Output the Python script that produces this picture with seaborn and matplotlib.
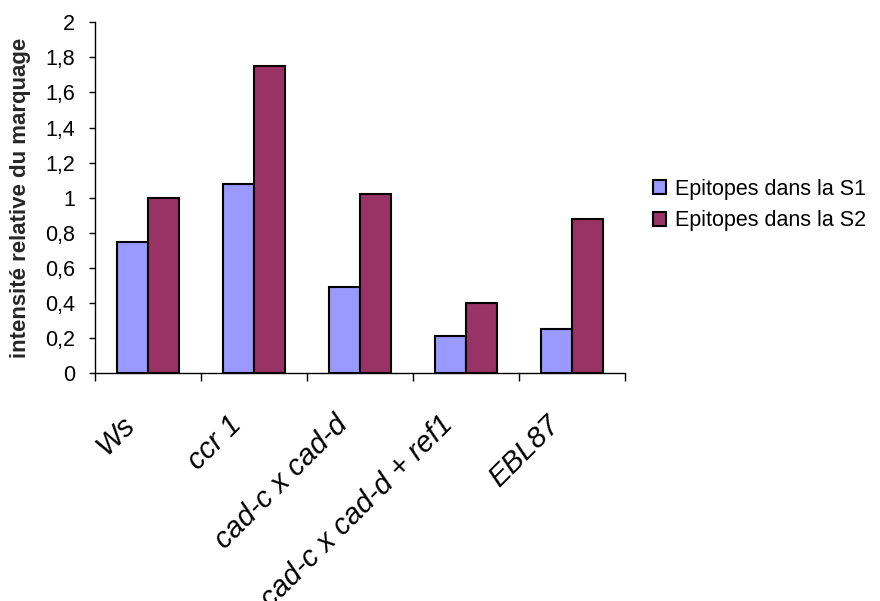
import numpy as np
import pandas as pd
import seaborn as sns
import matplotlib.pyplot as plt

# --- data ---
lignees = ['Ws', 'ccr 1', 'cad-c x cad-d', 'cad-c x cad-d + ref1', 'EBL87']
s1 = [0.75, 1.08, 0.49, 0.21, 0.25]
s2 = [1.00, 1.75, 1.02, 0.40, 0.88]
series = ['Epitopes dans la S1', 'Epitopes dans la S2']
colors = ['#9999FF', '#993366']
yticks = [0, 0.2, 0.4, 0.6, 0.8, 1.0, 1.2, 1.4, 1.6, 1.8, 2.0]
ytick_labels = ['0', '0,2', '0,4', '0,6', '0,8', '1', '1,2', '1,4', '1,6', '1,8', '2']

df = pd.DataFrame({
    'lignee': lignees * 2,
    'serie': [series[0]] * len(lignees) + [series[1]] * len(lignees),
    'valeur': s1 + s2,
})

sns.set_style('white')
plt.rcParams['font.family'] = ['Liberation Sans', 'DejaVu Sans']
plt.rcParams['text.color'] = 'black'
plt.rcParams['xtick.color'] = 'black'
plt.rcParams['ytick.color'] = 'black'

fig = plt.figure(figsize=(8.8, 6.01), dpi=100)
ax = fig.add_axes([0.108, 0.379, 0.602, 0.584])

sns.barplot(data=df, x='lignee', y='valeur', hue='serie', palette=colors,
            width=0.58, edgecolor='black', linewidth=1.5, saturation=1,
            ax=ax, legend=True)

ax.set_xlim(-0.5, len(lignees) - 0.5)
ax.set_ylim(0, 2)
ax.set_yticks(yticks)
ax.set_yticklabels(ytick_labels, fontsize=15.5)

# Excel-style: rotated labels end a little left of the category centre,
# tick marks sit between categories
ax.set_xticks(np.arange(len(lignees)) - 0.16)
ax.set_xticklabels(lignees, rotation=45, ha='right', va='center',
                   rotation_mode='anchor', fontsize=21, style='italic')
ax.tick_params(axis='x', which='major', length=0, pad=34, bottom=True)
ax.set_xticks(np.arange(-0.5, len(lignees)), minor=True)
ax.tick_params(axis='x', which='minor', length=6, width=1, color='black',
               direction='out', bottom=True)
ax.tick_params(axis='y', length=4.5, width=1, color='black', direction='out',
               pad=10, left=True)

for side in ['top', 'right']:
    ax.spines[side].set_visible(False)
for side in ['left', 'bottom']:
    ax.spines[side].set_color('black')
    ax.spines[side].set_linewidth(1)

ax.set_xlabel('')
ax.set_ylabel('intensité relative du marquage', fontsize=16, fontweight='bold',
              labelpad=10)

handles, labels = ax.get_legend_handles_labels()
ax.get_legend().remove()
fig.legend(handles, labels, loc='center left', bbox_to_anchor=(0.72, 0.659),
           frameon=False, fontsize=15.5, handlelength=0.6, handleheight=0.6,
           handletextpad=0.4, labelspacing=0.5)

fig.savefig('out.png', dpi=100)
